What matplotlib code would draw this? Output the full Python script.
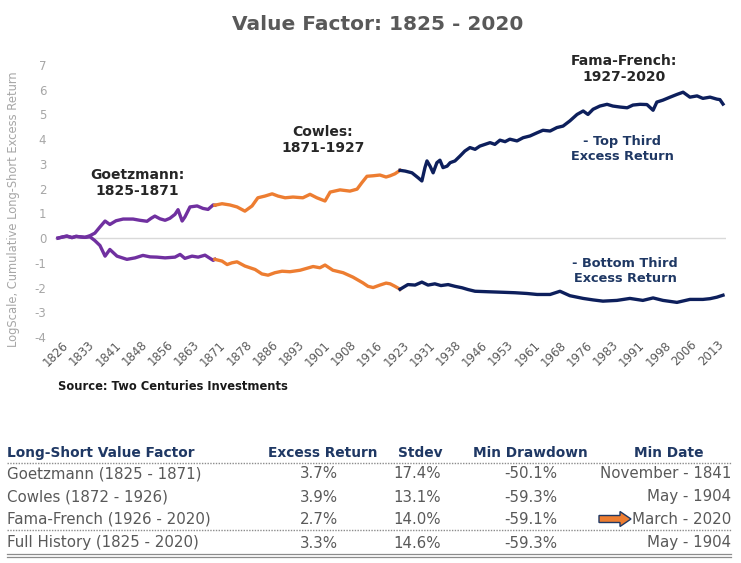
import numpy as np
import matplotlib
matplotlib.use("Agg")
import matplotlib.pyplot as plt
from matplotlib.patches import FancyArrow

plt.rcParams['font.family'] = ['DejaVu Sans']

# ---------------- data ----------------
goetz_years_top = [1825.0, 1826.5, 1827.6, 1829.1, 1830.3, 1831.5, 1832.9, 1834.4, 1835.8, 1837.3,
                   1838.8, 1840.2, 1842.0, 1844.1, 1847.0, 1849.0, 1851.1, 1852.3, 1853.4, 1854.9,
                   1856.4, 1857.8, 1859.3, 1860.2, 1861.4, 1862.2, 1863.7, 1865.8, 1867.5, 1869.0,
                   1870.5, 1871.0]
goetz_top = [0.0, 0.05, 0.08, 0.02, 0.07, 0.05, 0.03, 0.1, 0.2, 0.45,
             0.69, 0.55, 0.7, 0.77, 0.77, 0.72, 0.68, 0.8, 0.89, 0.78,
             0.72, 0.8, 0.96, 1.15, 0.69, 0.85, 1.26, 1.3, 1.2, 1.16,
             1.34, 1.33]

goetz_years_bot = [1825.0, 1826.5, 1827.6, 1829.1, 1830.3, 1831.5, 1832.9, 1834.4, 1835.8, 1837.3,
                   1838.8, 1840.2, 1842.3, 1845.2, 1847.6, 1849.9, 1852.0, 1854.0, 1856.4, 1859.3,
                   1860.8, 1862.2, 1864.3, 1866.1, 1868.1, 1870.5, 1871.0]
goetz_bot = [0.0, 0.05, 0.08, 0.02, 0.07, 0.05, 0.03, 0.05, -0.1, -0.3,
             -0.73, -0.46, -0.73, -0.86, -0.8, -0.7, -0.76, -0.77, -0.8, -0.77,
             -0.66, -0.82, -0.73, -0.77, -0.69, -0.9, -0.86]

cowles_years_top = [1871.0, 1873.1, 1875.4, 1877.5, 1879.8, 1881.9, 1883.6, 1885.7, 1887.8, 1889.5,
                    1891.6, 1893.9, 1896.8, 1898.9, 1900.9, 1903.3, 1904.8, 1907.7, 1910.6, 1912.7,
                    1914.1, 1915.6, 1917.4, 1919.4, 1921.2, 1922.4, 1923.8, 1925.3]
cowles_top = [1.33, 1.39, 1.34, 1.26, 1.09, 1.3, 1.63, 1.7, 1.79, 1.7,
              1.63, 1.66, 1.63, 1.77, 1.63, 1.5, 1.86, 1.95, 1.9, 1.98,
              2.24, 2.5, 2.52, 2.55, 2.47, 2.52, 2.6, 2.74]

cowles_years_bot = [1871.0, 1873.1, 1874.6, 1876.0, 1877.5, 1879.8, 1882.8, 1884.8, 1886.6, 1888.6,
                    1890.7, 1893.0, 1896.0, 1899.8, 1901.8, 1903.3, 1905.6, 1908.6, 1911.5, 1914.4,
                    1915.9, 1917.4, 1919.4, 1921.2, 1922.4, 1923.8, 1925.3]
cowles_bot = [-0.86, -0.93, -1.07, -1.0, -0.96, -1.13, -1.27, -1.45, -1.5, -1.4,
              -1.34, -1.36, -1.3, -1.15, -1.2, -1.09, -1.3, -1.4, -1.58, -1.81,
              -1.95, -2.0, -1.9, -1.82, -1.85, -1.95, -2.07]

ff_years_top = [1925.3, 1926.8, 1928.8, 1930.6, 1931.7, 1932.6, 1933.2, 1934.1, 1935.0, 1936.1,
                1937.0, 1937.9, 1939.1, 1940.0, 1941.4, 1942.9, 1944.3, 1945.8, 1947.3, 1948.7,
                1950.2, 1951.7, 1953.1, 1954.6, 1956.1, 1957.5, 1959.6, 1961.4, 1963.4, 1965.5,
                1967.2, 1969.3, 1971.3, 1973.1, 1975.1, 1977.2, 1979.0, 1980.4, 1981.9, 1983.9,
                1986.0, 1987.7, 1989.8, 1991.9, 1993.6, 1995.7, 1997.7, 1999.5, 2000.6, 2002.4,
                2004.5, 2006.5, 2008.3, 2010.3, 2012.4, 2014.1, 2016.2, 2018.2, 2019.1, 2020.0]
ff_top = [2.74, 2.71, 2.64, 2.44, 2.31, 2.85, 3.12, 2.91, 2.64, 3.05,
          3.15, 2.85, 2.91, 3.05, 3.12, 3.32, 3.52, 3.66, 3.59, 3.72,
          3.79, 3.86, 3.79, 3.96, 3.9, 4.0, 3.93, 4.06, 4.13, 4.26,
          4.36, 4.33, 4.47, 4.53, 4.74, 5.0, 5.14, 5.0, 5.21, 5.34,
          5.41, 5.34, 5.3, 5.27, 5.38, 5.41, 5.4, 5.17, 5.5, 5.58,
          5.7, 5.81, 5.9, 5.7, 5.75, 5.65, 5.7, 5.62, 5.6, 5.42]

ff_years_bot = [1925.3, 1927.6, 1929.7, 1931.7, 1933.5, 1935.5, 1937.3, 1939.4, 1941.4, 1943.5,
                1945.2, 1947.3, 1951.1, 1955.2, 1959.0, 1962.5, 1965.5, 1969.3, 1972.2, 1975.1,
                1979.0, 1981.9, 1984.8, 1988.9, 1992.7, 1996.5, 1999.5, 2002.4, 2006.5, 2010.3,
                2014.1, 2016.2, 2018.2, 2020.0]
ff_bot = [-2.07, -1.88, -1.9, -1.78, -1.9, -1.85, -1.92, -1.88, -1.95, -2.01,
          -2.08, -2.15, -2.17, -2.19, -2.21, -2.24, -2.28, -2.28, -2.15, -2.33,
          -2.44, -2.5, -2.55, -2.52, -2.44, -2.52, -2.42, -2.52, -2.6, -2.48,
          -2.48, -2.45, -2.39, -2.31]

x_tick_labels = ['1826', '1833', '1841', '1848', '1856', '1863', '1871', '1878', '1886', '1893',
                 '1901', '1908', '1916', '1923', '1931', '1938', '1946', '1953', '1961', '1968',
                 '1976', '1983', '1991', '1998', '2006', '2013']
y_ticks = [-4, -3, -2, -1, 0, 1, 2, 3, 4, 5, 6, 7]

table_header = ['Long-Short Value Factor', 'Excess Return', 'Stdev', 'Min Drawdown', 'Min Date']
table_names = ['Goetzmann (1825 - 1871)', 'Cowles (1872 - 1926)', 'Fama-French (1926 - 2020)',
               'Full History (1825 - 2020)']
table_excess = ['3.7%', '3.9%', '2.7%', '3.3%']
table_stdev = ['17.4%', '13.1%', '14.0%', '14.6%']
table_drawdown = ['-50.1%', '-59.3%', '-59.1%', '-59.3%']
table_mindate = ['November - 1841', 'May - 1904', 'March - 2020', 'May - 1904']

# ---------------- styling ----------------
PURPLE = '#7030a0'
ORANGE = '#ed7d31'
NAVY = '#0d1f5c'
NAVY_TXT = '#1f3864'
GREY_TXT = '#595959'
LIGHT = '#a6a6a6'

W, H = 741, 563
fig = plt.figure(figsize=(W / 100, H / 100), dpi=100)

# main axes: x 1824..2021 over px 54.6..726.4, y -4..7 over px 337..65
ax = fig.add_axes([54.6 / W, (H - 337) / H, (726.4 - 54.6) / W, (337 - 65) / H])
ax.set_xlim(1824, 2021)
ax.set_ylim(-4, 7)
for s in ax.spines.values():
    s.set_visible(False)
ax.axhline(0, color='#d9d9d9', lw=1.0, zorder=1)

lw = 2.4
ax.plot(goetz_years_top, goetz_top, color=PURPLE, lw=lw, zorder=3, solid_joinstyle='round')
ax.plot(goetz_years_bot, goetz_bot, color=PURPLE, lw=lw, zorder=3, solid_joinstyle='round')
ax.plot(cowles_years_top, cowles_top, color=ORANGE, lw=lw, zorder=3, solid_joinstyle='round')
ax.plot(cowles_years_bot, cowles_bot, color=ORANGE, lw=lw, zorder=3, solid_joinstyle='round')
ax.plot(ff_years_top, ff_top, color=NAVY, lw=lw, zorder=3, solid_joinstyle='round')
ax.plot(ff_years_bot, ff_bot, color=NAVY, lw=lw, zorder=3, solid_joinstyle='round')

ax.set_yticks(y_ticks)
ax.set_yticklabels([str(v) for v in y_ticks], color=LIGHT, fontsize=8.5)
tick_pos = 1824.4 + 7.68 * np.arange(len(x_tick_labels))
ax.set_xticks(tick_pos)
ax.set_xticklabels(x_tick_labels, rotation=45, ha='center', color=GREY_TXT, fontsize=8.5)
ax.tick_params(axis='both', length=0)
ax.tick_params(axis='y', pad=6)
ax.tick_params(axis='x', pad=1)
ax.set_ylabel('LogScale, Cumulative Long-Short Excess Return', color=LIGHT, fontsize=8.3)
ax.yaxis.set_label_coords(-0.052, 0.47)

# overlay in pixel coordinates for text and table
ov = fig.add_axes([0, 0, 1, 1], zorder=5)
ov.set_xlim(0, W)
ov.set_ylim(H, 0)
ov.axis('off')

ov.text(378, 25, 'Value Factor: 1825 - 2020', ha='center', va='center', fontsize=14.5,
        fontweight='bold', color=GREY_TXT)

ann_col = '#262626'
ov.text(137, 183, 'Goetzmann:\n1825-1871', ha='center', va='center', fontsize=10,
        fontweight='bold', color=ann_col, linespacing=1.15)
ov.text(323, 140, 'Cowles:\n1871-1927', ha='center', va='center', fontsize=10,
        fontweight='bold', color=ann_col, linespacing=1.15)
ov.text(624, 69, 'Fama-French:\n1927-2020', ha='center', va='center', fontsize=10,
        fontweight='bold', color=ann_col, linespacing=1.15)
ov.text(622, 149, '- Top Third\nExcess Return', ha='center', va='center', fontsize=9.3,
        fontweight='bold', color=NAVY_TXT, linespacing=1.2)
ov.text(625, 271, '- Bottom Third\nExcess Return', ha='center', va='center', fontsize=9.3,
        fontweight='bold', color=NAVY_TXT, linespacing=1.2)

ov.text(58, 386, 'Source: Two Centuries Investments', ha='left', va='center', fontsize=8.3,
        fontweight='bold', color='#1a1a1a')

# ---------------- table ----------------
hdr_y = 453
hfs = 9.9
ov.text(7, hdr_y, table_header[0], ha='left', va='center', fontsize=hfs, fontweight='bold', color=NAVY_TXT)
ov.text(323, hdr_y, table_header[1], ha='center', va='center', fontsize=hfs, fontweight='bold', color=NAVY_TXT)
ov.text(420, hdr_y, table_header[2], ha='center', va='center', fontsize=hfs, fontweight='bold', color=NAVY_TXT)
ov.text(530, hdr_y, table_header[3], ha='center', va='center', fontsize=hfs, fontweight='bold', color=NAVY_TXT)
ov.text(669, hdr_y, table_header[4], ha='center', va='center', fontsize=hfs, fontweight='bold', color=NAVY_TXT)

ov.plot([7, 731], [463, 463], color='#8c8c8c', lw=1.0, ls=(0, (1, 1)))
ov.plot([7, 731], [530, 530], color='#8c8c8c', lw=1.0, ls=(0, (1, 1)))
ov.plot([7, 731], [553.5, 553.5], color='#8c8c8c', lw=0.9)
ov.plot([7, 731], [556.5, 556.5], color='#8c8c8c', lw=0.9)

rfs = 10.8
row_y = [474, 497, 519, 543]
for i in range(len(table_names)):
    y = row_y[i]
    ov.text(7, y, table_names[i], ha='left', va='center', fontsize=rfs, color=GREY_TXT)
    ov.text(338, y, table_excess[i], ha='right', va='center', fontsize=rfs, color=GREY_TXT)
    ov.text(441, y, table_stdev[i], ha='right', va='center', fontsize=rfs, color=GREY_TXT)
    ov.text(557, y, table_drawdown[i], ha='right', va='center', fontsize=rfs, color=GREY_TXT)
    ov.text(731, y, table_mindate[i], ha='right', va='center', fontsize=rfs, color=GREY_TXT)

ov.add_patch(FancyArrow(599, row_y[2], 32, 0, width=7, head_width=15, head_length=11,
                        length_includes_head=True, fc=ORANGE, ec=NAVY_TXT, lw=1.0))

fig.savefig('out.png', dpi=100)
